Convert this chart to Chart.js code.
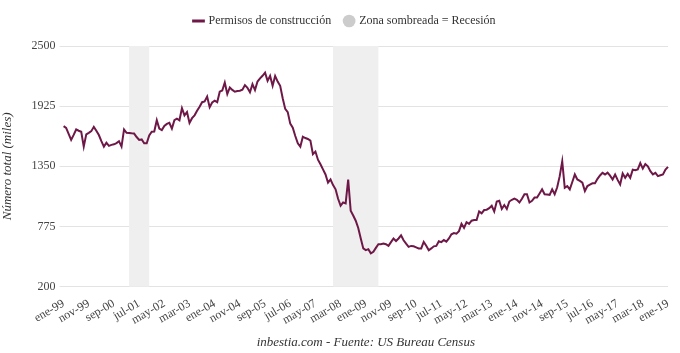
<!DOCTYPE html>
<html>
<head>
<meta charset="utf-8">
<script src="https://cdn.jsdelivr.net/npm/chart.js@4/dist/chart.umd.min.js"></script>
<style>
html,body{margin:0;padding:0;background:#fff;}
#wrap{width:680px;height:353px;position:relative;}
</style>
</head>
<body>
<div id="wrap"><canvas id="c" width="680" height="353"></canvas></div>
<script>
const monthNames = ['ene','feb','mar','abr','may','jun','jul','ago','sep','oct','nov','dic'];
const startYear = 1999;
const permits = [
1734,1717,1660,1602,1650,1702,1690,1680,1538,1655,1670,1686,
1727,1690,1649,1590,1538,1576,1545,1555,1560,1572,1590,1538,
1702,1670,1668,1665,1663,1630,1602,1607,1570,1570,1645,1680,
1682,1790,1710,1696,1735,1755,1765,1711,1790,1805,1790,1906,
1837,1868,1765,1810,1837,1880,1920,1963,1970,2016,1915,1960,
1978,1963,2063,2075,2151,2041,2104,2080,2063,2070,2072,2082,
2126,2100,2057,2135,2079,2160,2190,2215,2245,2167,2214,2120,
2214,2160,2120,2000,1899,1868,1758,1720,1640,1570,1538,1633,
1620,1611,1595,1466,1491,1413,1370,1320,1272,1193,1224,1170,
1130,1040,973,1004,995,1224,926,880,830,760,660,565,
549,558,518,533,570,605,605,612,605,589,625,660,
636,660,690,643,610,580,589,585,575,565,565,627,
590,548,565,585,589,633,625,645,630,660,700,712,
706,730,800,762,815,800,830,837,837,919,900,932,
935,950,973,919,1013,1020,942,980,942,1013,1030,1042,
1030,1004,1040,1083,1083,1004,1020,1051,1051,1090,1130,1083,
1080,1077,1130,1083,1150,1256,1397,1145,1161,1130,1200,1272,
1224,1210,1193,1114,1161,1175,1187,1187,1230,1262,1287,1272,
1290,1260,1224,1272,1220,1177,1281,1240,1277,1240,1318,1312,
1320,1381,1328,1372,1350,1303,1272,1287,1256,1265,1272,1318,
1345
];
const labels = permits.map((_, i) => monthNames[i % 12] + '-' + String((startYear + Math.floor(i / 12)) % 100).padStart(2, '0'));
const tickEvery = 10;
const yTicks = [200, 775, 1350, 1925, 2500];
// recessions: [start label, end label]
const recessionStarts = ['mar-01', 'dic-07'];
const recessionEnds = ['nov-01', 'jun-09'];

const FONT = "'Liberation Serif', 'DejaVu Serif', serif";

const recessionPlugin = {
  id: 'recessions',
  beforeDatasetsDraw(chart) {
    const {ctx, chartArea, scales} = chart;
    ctx.save();
    ctx.fillStyle = '#efefef';
    for (let k = 0; k < recessionStarts.length; k++) {
      const x1 = scales.x.getPixelForValue(labels.indexOf(recessionStarts[k]));
      const x2 = scales.x.getPixelForValue(labels.indexOf(recessionEnds[k]));
      ctx.fillRect(x1, chartArea.top, x2 - x1, chartArea.bottom - chartArea.top);
    }
    ctx.restore();
  }
};

const legendMargin = {
  id: 'legendMargin',
  beforeInit(chart) {
    const fit = chart.legend.fit;
    chart.legend.fit = function () { fit.bind(chart.legend)(); this.height += 9; };
  },
  afterLayout(chart) {
    chart.legend.left += 11;
    chart.legend.right += 11;
  }
};

new Chart(document.getElementById('c'), {
  type: 'line',
  data: {
    labels: labels,
    datasets: [
      {
        label: 'Permisos de construcción',
        data: permits,
        borderColor: '#6e1847',
        backgroundColor: '#6e1847',
        borderWidth: 2,
        pointRadius: 0,
        tension: 0,
        pointStyle: 'line'
      },
      {
        label: 'Zona sombreada = Recesión',
        data: [],
        borderColor: '#cccccc',
        backgroundColor: '#cccccc',
        pointStyle: 'circle'
      }
    ]
  },
  options: {
    responsive: false,
    animation: false,
    layout: {padding: {left: 0, right: 12, top: 1, bottom: 0}},
    plugins: {
      legend: {
        position: 'top',
        labels: {
          usePointStyle: true,
          boxWidth: 8,
          boxHeight: 9,
          padding: 14,
          color: '#333',
          font: {family: FONT, size: 12},
          generateLabels(chart) {
            return chart.data.datasets.map((ds, i) => ({
              text: ds.label,
              fillStyle: ds.backgroundColor,
              strokeStyle: ds.borderColor,
              lineWidth: i === 0 ? 3 : 0,
              pointStyle: ds.pointStyle,
              fontColor: '#333',
              datasetIndex: i,
              hidden: false
            }));
          }
        }
      },
      tooltip: {enabled: false}
    },
    scales: {
      x: {
        grid: {display: false},
        border: {display: false},
        ticks: {
          autoSkip: false,
          maxRotation: 30,
          minRotation: 30,
          color: '#444',
          padding: 2,
          font: {family: FONT, size: 12},
          callback(v, i) { return i % tickEvery === 0 ? labels[i] : null; }
        },
        title: {
          display: true,
          text: 'inbestia.com - Fuente: US Bureau Census',
          color: '#333',
          font: {family: FONT, size: 13, style: 'italic', weight: 'normal'},
          padding: {top: 5, bottom: 3}
        }
      },
      y: {
        min: 200,
        max: 2500,
        afterBuildTicks(axis) { axis.ticks = yTicks.map(v => ({value: v})); },
        grid: {color: '#e3e3e3', drawTicks: true, tickLength: 4, tickColor: '#e3e3e3'},
        border: {display: false},
        ticks: {
          color: '#444',
          padding: 4,
          font: {family: FONT, size: 12},
          callback(v) { return String(v); }
        },
        title: {
          display: true,
          text: 'Número total (miles)',
          color: '#333',
          font: {family: FONT, size: 13, style: 'italic'},
          padding: {top: 0, bottom: 12}
        }
      }
    }
  },
  plugins: [recessionPlugin, legendMargin]
});
</script>
</body>
</html>
